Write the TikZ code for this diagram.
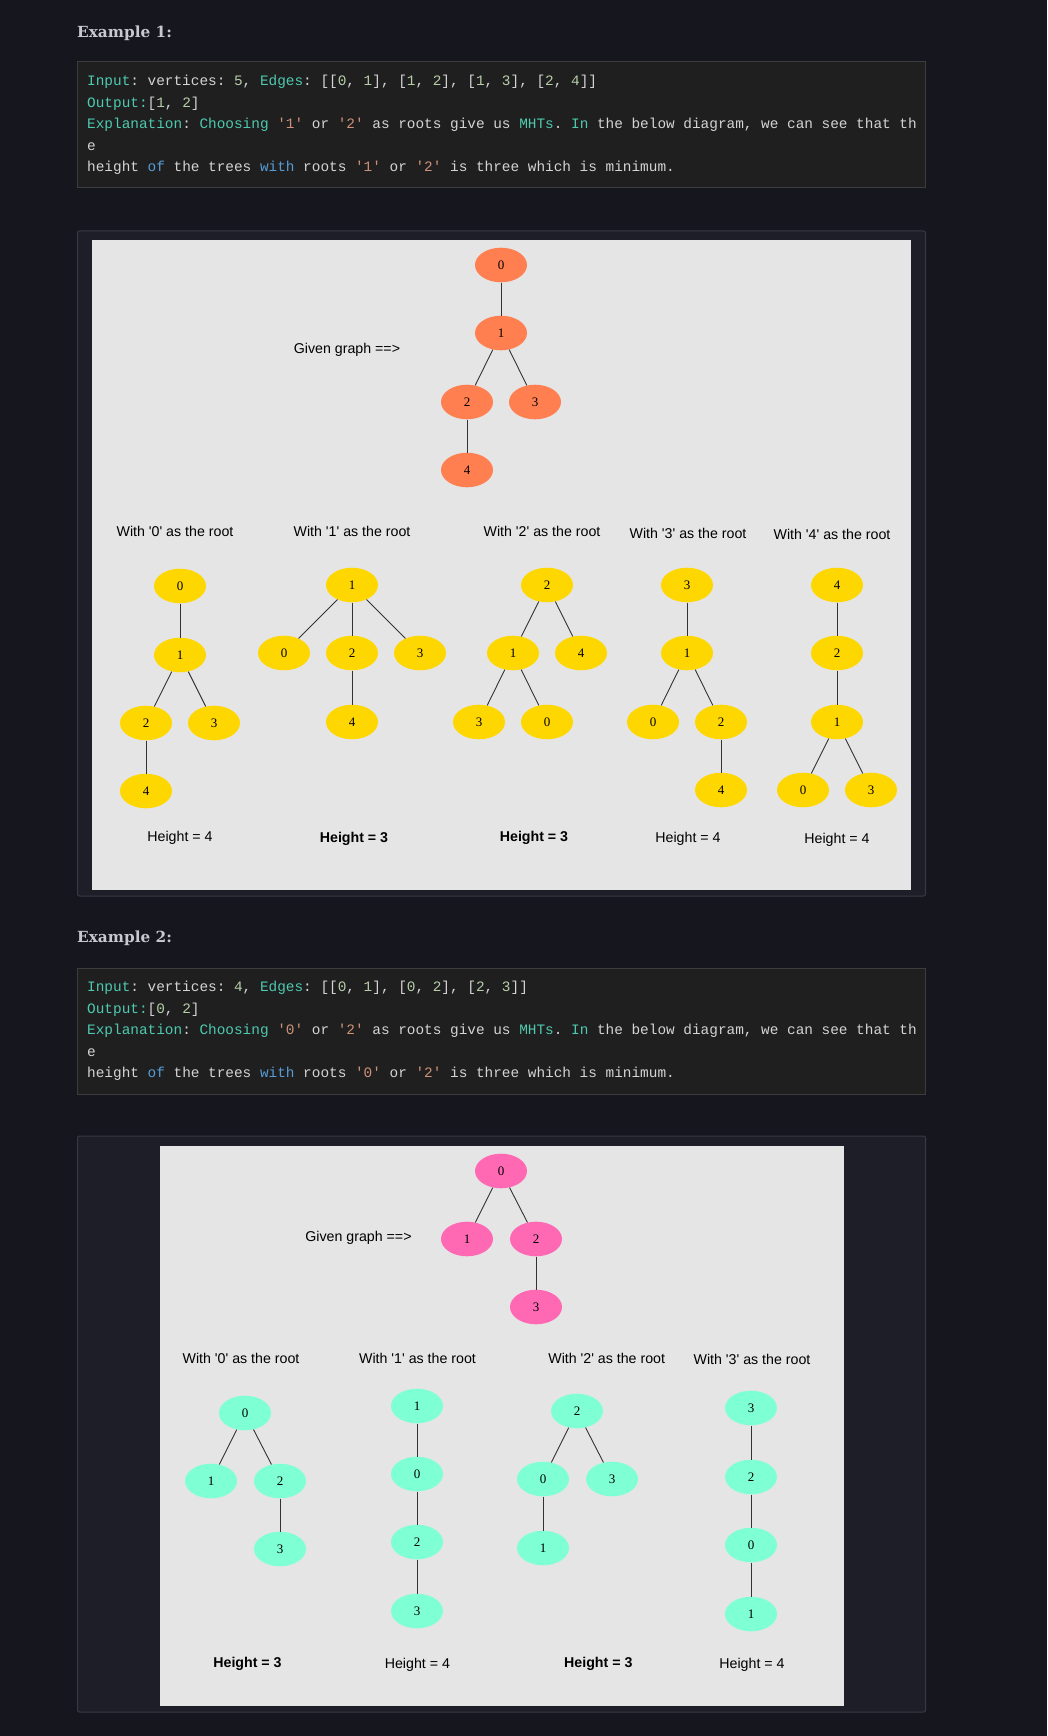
\documentclass[tikz,border=0pt]{standalone}
\usepackage{fontspec}
\usetikzlibrary{shapes.geometric}

\newfontfamily\labelfont{Liberation Sans}
\newfontfamily\vtxfont{Liberation Serif}
\newfontfamily\headfont{DejaVu Serif}
\newfontfamily\codefont{Liberation Mono}

\definecolor{pagebg}{HTML}{16161F}
\definecolor{boxbg}{HTML}{1E1E28}
\definecolor{boxline}{HTML}{383944}
\definecolor{codebg}{HTML}{1F1F1F}
\definecolor{codeline}{HTML}{3C3C3C}
\definecolor{panelbg}{HTML}{E5E5E5}
\definecolor{headfg}{HTML}{C8C8D0}
\definecolor{codefg}{HTML}{D4D4D4}
\definecolor{codeteal}{HTML}{4EC9B0}
\definecolor{codenum}{HTML}{B5CEA8}
\definecolor{codestr}{HTML}{CE9178}
\definecolor{codekw}{HTML}{569CD6}
\definecolor{edgegray}{HTML}{333333}
\definecolor{coral}{HTML}{FF7F50}
\definecolor{gold}{HTML}{FFD700}
\definecolor{hotpink}{HTML}{FF69B4}
\definecolor{aqua}{HTML}{7FFFD4}

\newcommand\kt[1]{\textcolor{codeteal}{#1}}
\newcommand\kn[1]{\textcolor{codenum}{#1}}
\newcommand\ks[1]{\textcolor{codestr}{\textquotesingle#1\textquotesingle}}
\newcommand\kw[1]{\textcolor{codekw}{#1}}
\newcommand\withroot[1]{With \textquotesingle#1\textquotesingle{} as the root}

\begin{document}
\begin{tikzpicture}[x=1pt, y=-1pt,
  vtx/.style={ellipse, minimum width=52pt, minimum height=34.6pt, inner sep=0pt,
    text=black, font={\vtxfont\fontsize{13}{13}\selectfont}},
  given1/.style={vtx, fill=coral},
  given2/.style={vtx, fill=hotpink},
  root1/.style={vtx, fill=gold},
  root2/.style={vtx, fill=aqua},
  edge/.style={draw=edgegray, line width=0.9pt},
  caption/.style={inner sep=0pt, text=black, font={\labelfont\fontsize{14.2}{17}\selectfont}},
  bestcap/.style={caption, font={\labelfont\bfseries\fontsize{14.2}{17}\selectfont}},
  heading/.style={anchor=base west, inner sep=0pt, text=headfg,
    font={\headfont\bfseries\fontsize{15.3}{18}\selectfont}},
  codetext/.style={anchor=base west, inner sep=0pt, text=codefg,
    font={\codefont\frenchspacing\fontsize{14.4}{17}\selectfont}},
  codebox/.style={fill=codebg, draw=codeline, line width=1pt},
  outerbox/.style={fill=boxbg, draw=boxline, line width=1pt, rounded corners=2pt},
  panel/.style={fill=panelbg}]

  \useasboundingbox (0,0) rectangle (1047,1736);
  \fill[pagebg] (0,0) rectangle (1047,1736);

  % Example 1
  \node[heading] (head1) at (77,37.3) {Example 1:};
  \draw[codebox] (77.5,62) rectangle (925.5,188);
  \node[codetext] (code1a) at (87,86) {\kt{Input}: vertices: \kn{5}, \kt{Edges}: [[\kn{0}, \kn{1}], [\kn{1}, \kn{2}], [\kn{1}, \kn{3}], [\kn{2}, \kn{4}]]};
  \node[codetext] (code1b) at (87,107.5) {\kt{Output:}[\kn{1}, \kn{2}]};
  \node[codetext] (code1c) at (87,129) {\kt{Explanation}: \kt{Choosing} \ks{1} or \ks{2} as roots give us \kt{MHTs}. \kt{In} the below diagram, we can see that th};
  \node[codetext] (code1d) at (87,150.5) {e};
  \node[codetext] (code1e) at (87,172) {height \kw{of} the trees \kw{with} roots \ks{1} or \ks{2} is three which is minimum.};

  \draw[outerbox] (77.5,231) rectangle (925.5,896);
  \fill[panel] (92,240) rectangle (911,890);

  % given graph
  \node[caption] (given1) at (347,350) {Given graph ==>};
  \node[given1] (g0) at (501,265) {0};
  \node[given1] (g1) at (501,333) {1};
  \node[given1] (g2) at (467,402) {2};
  \node[given1] (g3) at (535,402) {3};
  \node[given1] (g4) at (467,470) {4};
  \draw[edge] (g0) -- (g1);
  \draw[edge] (g1) -- (g2);
  \draw[edge] (g1) -- (g3);
  \draw[edge] (g2) -- (g4);

  % rooted at 0
  \node[caption] (cap0) at (175,531) {\withroot{0}};
  \node[root1] (t0v0) at (180,586) {0};
  \node[root1] (t0v1) at (180,655) {1};
  \node[root1] (t0v2) at (146,723) {2};
  \node[root1] (t0v3) at (214,723) {3};
  \node[root1] (t0v4) at (146,791) {4};
  \draw[edge] (t0v0) -- (t0v1);
  \draw[edge] (t0v1) -- (t0v2);
  \draw[edge] (t0v1) -- (t0v3);
  \draw[edge] (t0v2) -- (t0v4);
  \node[caption] (ht0) at (180,838) {Height = 4};

  % rooted at 1
  \node[caption] (cap1) at (352,531) {\withroot{1}};
  \node[root1] (t1v1) at (352,585) {1};
  \node[root1] (t1v0) at (284,653) {0};
  \node[root1] (t1v2) at (352,653) {2};
  \node[root1] (t1v3) at (420,653) {3};
  \node[root1] (t1v4) at (352,722) {4};
  \draw[edge] (t1v1) -- (t1v0);
  \draw[edge] (t1v1) -- (t1v2);
  \draw[edge] (t1v1) -- (t1v3);
  \draw[edge] (t1v2) -- (t1v4);
  \node[bestcap] (ht1) at (354,839) {Height = 3};

  % rooted at 2
  \node[caption] (cap2) at (542,531) {\withroot{2}};
  \node[root1] (t2v2) at (547,585) {2};
  \node[root1] (t2v1) at (513,653) {1};
  \node[root1] (t2v4) at (581,653) {4};
  \node[root1] (t2v3) at (479,722) {3};
  \node[root1] (t2v0) at (547,722) {0};
  \draw[edge] (t2v2) -- (t2v1);
  \draw[edge] (t2v2) -- (t2v4);
  \draw[edge] (t2v1) -- (t2v3);
  \draw[edge] (t2v1) -- (t2v0);
  \node[bestcap] (ht2) at (534,838) {Height = 3};

  % rooted at 3
  \node[caption] (cap3) at (688,533) {\withroot{3}};
  \node[root1] (t3v3) at (687,585) {3};
  \node[root1] (t3v1) at (687,653) {1};
  \node[root1] (t3v0) at (653,722) {0};
  \node[root1] (t3v2) at (721,722) {2};
  \node[root1] (t3v4) at (721,790) {4};
  \draw[edge] (t3v3) -- (t3v1);
  \draw[edge] (t3v1) -- (t3v0);
  \draw[edge] (t3v1) -- (t3v2);
  \draw[edge] (t3v2) -- (t3v4);
  \node[caption] (ht3) at (688,839) {Height = 4};

  % rooted at 4
  \node[caption] (cap4) at (832,534) {\withroot{4}};
  \node[root1] (t4v4) at (837,585) {4};
  \node[root1] (t4v2) at (837,653) {2};
  \node[root1] (t4v1) at (837,722) {1};
  \node[root1] (t4v0) at (803,790) {0};
  \node[root1] (t4v3) at (871,790) {3};
  \draw[edge] (t4v4) -- (t4v2);
  \draw[edge] (t4v2) -- (t4v1);
  \draw[edge] (t4v1) -- (t4v0);
  \draw[edge] (t4v1) -- (t4v3);
  \node[caption] (ht4) at (837,840) {Height = 4};

  % Example 2
  \node[heading] (head2) at (77,942.7) {Example 2:};
  \draw[codebox] (77.5,968.5) rectangle (925.5,1094);
  \node[codetext] (code2a) at (87,991.5) {\kt{Input}: vertices: \kn{4}, \kt{Edges}: [[\kn{0}, \kn{1}], [\kn{0}, \kn{2}], [\kn{2}, \kn{3}]]};
  \node[codetext] (code2b) at (87,1013) {\kt{Output:}[\kn{0}, \kn{2}]};
  \node[codetext] (code2c) at (87,1034.5) {\kt{Explanation}: \kt{Choosing} \ks{0} or \ks{2} as roots give us \kt{MHTs}. \kt{In} the below diagram, we can see that th};
  \node[codetext] (code2d) at (87,1056) {e};
  \node[codetext] (code2e) at (87,1077.5) {height \kw{of} the trees \kw{with} roots \ks{0} or \ks{2} is three which is minimum.};

  \draw[outerbox] (77.5,1136) rectangle (925.5,1712);
  \fill[panel] (160,1146) rectangle (844,1706);

  % given graph
  \node[caption] (given2) at (358.5,1238) {Given graph ==>};
  \node[given2] (h0) at (501,1171) {0};
  \node[given2] (h1) at (467,1239) {1};
  \node[given2] (h2) at (536,1239) {2};
  \node[given2] (h3) at (536,1307) {3};
  \draw[edge] (h0) -- (h1);
  \draw[edge] (h0) -- (h2);
  \draw[edge] (h2) -- (h3);

  % rooted at 0
  \node[caption] (dcap0) at (241,1358) {\withroot{0}};
  \node[root2] (s0v0) at (245,1413) {0};
  \node[root2] (s0v1) at (211,1481) {1};
  \node[root2] (s0v2) at (280,1481) {2};
  \node[root2] (s0v3) at (280,1549) {3};
  \draw[edge] (s0v0) -- (s0v1);
  \draw[edge] (s0v0) -- (s0v2);
  \draw[edge] (s0v2) -- (s0v3);
  \node[bestcap] (hs0) at (247.5,1664) {Height = 3};

  % rooted at 1
  \node[caption] (dcap1) at (417.5,1358) {\withroot{1}};
  \node[root2] (s1v1) at (417,1406) {1};
  \node[root2] (s1v0) at (417,1474) {0};
  \node[root2] (s1v2) at (417,1542) {2};
  \node[root2] (s1v3) at (417,1611) {3};
  \draw[edge] (s1v1) -- (s1v0);
  \draw[edge] (s1v0) -- (s1v2);
  \draw[edge] (s1v2) -- (s1v3);
  \node[caption] (hs1) at (417.4,1665) {Height = 4};

  % rooted at 2
  \node[caption] (dcap2) at (606.7,1358) {\withroot{2}};
  \node[root2] (s2v2) at (577,1411) {2};
  \node[root2] (s2v0) at (543,1479) {0};
  \node[root2] (s2v3) at (612,1479) {3};
  \node[root2] (s2v1) at (543,1548) {1};
  \draw[edge] (s2v2) -- (s2v0);
  \draw[edge] (s2v2) -- (s2v3);
  \draw[edge] (s2v0) -- (s2v1);
  \node[bestcap] (hs2) at (598.3,1664) {Height = 3};

  % rooted at 3
  \node[caption] (dcap3) at (752,1359) {\withroot{3}};
  \node[root2] (s3v3) at (751,1408) {3};
  \node[root2] (s3v2) at (751,1477) {2};
  \node[root2] (s3v0) at (751,1545) {0};
  \node[root2] (s3v1) at (751,1614) {1};
  \draw[edge] (s3v3) -- (s3v2);
  \draw[edge] (s3v2) -- (s3v0);
  \draw[edge] (s3v0) -- (s3v1);
  \node[caption] (hs3) at (752,1665) {Height = 4};
\end{tikzpicture}
\end{document}
